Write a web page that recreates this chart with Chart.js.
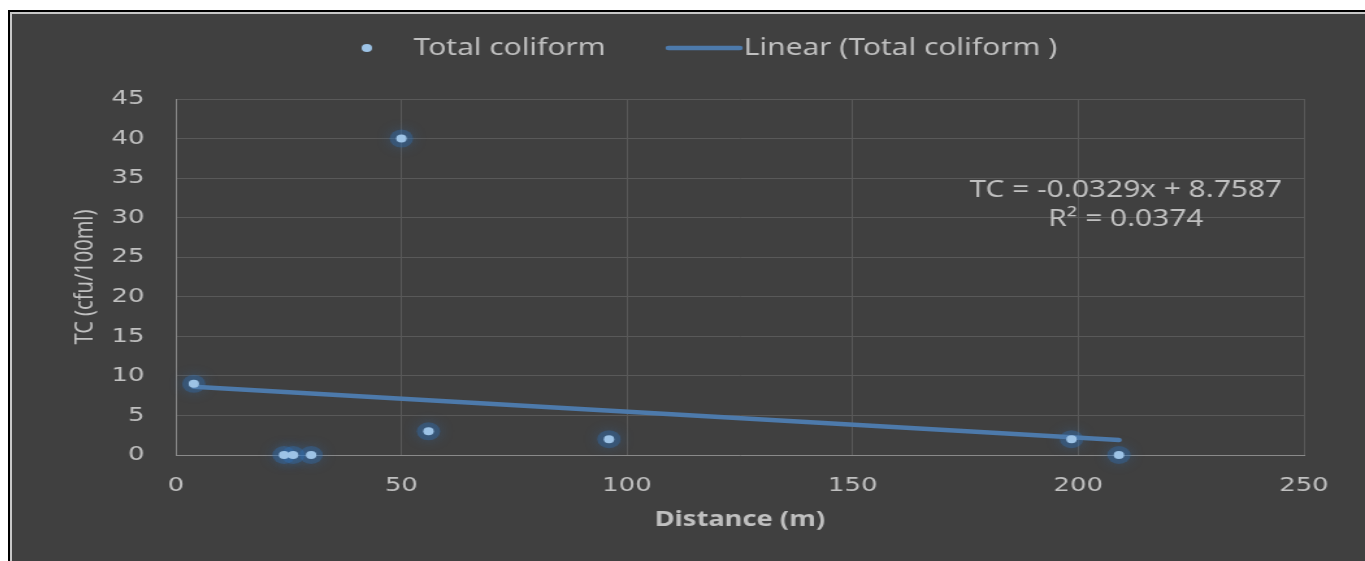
<!DOCTYPE html>
<html>
<head>
<meta charset="utf-8">
<title>Total coliform vs distance</title>
<script src="https://cdn.jsdelivr.net/npm/chart.js@4.4.1/dist/chart.umd.min.js"></script>
<style>
  html, body { margin: 0; padding: 0; background: #fff; overflow: hidden; }
  #frame {
    position: absolute; left: 8px; top: 10px;
    width: 1357px; height: 551px;
    border-left: 2px solid #000; border-top: 2px solid #000;
  }
  #inner {
    width: 1355px; height: 549px;
    border-left: 2px solid #c8c8c8; border-top: 2px solid #c8c8c8;
    background: #404040;
  }
  #chart { display: block; }
</style>
</head>
<body>
<div id="frame"><div id="inner">
  <canvas id="chart" width="1041" height="547" style="width:1353px;height:547px"></canvas>
</div></div>
<script>
// Data
const distance = [4, 24, 26, 30, 50, 56, 96, 198.5, 209];
const totalColiform = [9, 0, 0, 0, 40, 3, 2, 2, 0];

// Excel linear trendline shown on the chart
const trendSlope = -0.0329;
const trendIntercept = 8.7587;
const trendLabel = 'TC = -0.0329x + 8.7587';
const r2Label = 'R\u00b2 = 0.0374';

const xTicks = [0, 50, 100, 150, 200, 250];
const yTicks = [0, 5, 10, 15, 20, 25, 30, 35, 40, 45];

const textColor = '#c0c0c0';
const gridColor = '#595959';
const pointColor = '#9dc3e6';
const glowColor = 'rgba(50, 115, 185, 0.35)';
const lineColor = '#4d7aab';

const points = distance.map((d, i) => ({ x: d, y: totalColiform[i] }));
const xMin = Math.min(...distance);
const xMax = Math.max(...distance);
const trendPoints = [
  { x: xMin, y: trendIntercept + trendSlope * xMin },
  { x: xMax, y: trendIntercept + trendSlope * xMax },
];

// blur the halo dataset so it reads as a soft glow
const glowPlugin = {
  id: 'glow',
  beforeDatasetDraw(chart, args) {
    if (args.index !== 2) return;
    const c = chart.ctx;
    c.save();
    c.shadowColor = 'rgba(50, 115, 185, 0.9)';
    c.shadowBlur = 12;
  },
  afterDatasetDraw(chart, args) {
    if (args.index !== 2) return;
    chart.ctx.restore();
  },
};

// Excel style legend and equation label
const extrasPlugin = {
  id: 'extras',
  afterDraw(chart) {
    const c = chart.ctx;
    c.save();
    c.textBaseline = 'middle';
    c.font = '23px "Noto Sans"';

    // legend
    c.beginPath();
    c.fillStyle = pointColor;
    c.arc(273, 34, 4, 0, Math.PI * 2);
    c.fill();
    c.fillStyle = textColor;
    c.textAlign = 'left';
    c.fillText('Total coliform', 309, 34);

    c.strokeStyle = lineColor;
    c.lineWidth = 4.5;
    c.lineCap = 'round';
    c.beginPath();
    c.moveTo(505, 34);
    c.lineTo(560, 34);
    c.stroke();
    c.fillText('Linear (Total coliform )', 563, 34);

    // trendline equation
    c.textAlign = 'center';
    c.fillText(trendLabel, 857, 176);
    c.fillText(r2Label, 857, 205);
    c.restore();
  },
};

const ctx = document.getElementById('chart').getContext('2d');
const chart = new Chart(ctx, {
  type: 'scatter',
  data: {
    datasets: [
      {
        label: 'Total coliform',
        data: points,
        backgroundColor: pointColor,
        borderColor: pointColor,
        pointRadius: 4,
        pointBorderWidth: 0,
        clip: false,
        order: 1,
      },
      {
        type: 'line',
        label: 'Linear (Total coliform )',
        data: trendPoints,
        borderColor: lineColor,
        borderWidth: 4.5,
        borderCapStyle: 'round',
        pointRadius: 0,
        fill: false,
        clip: false,
        order: 2,
      },
      {
        label: 'glow',
        data: points,
        backgroundColor: glowColor,
        borderWidth: 0,
        pointRadius: 9,
        clip: false,
        order: 3,
      },
    ],
  },
  options: {
    responsive: false,
    animation: false,
    devicePixelRatio: 1,
    layout: { padding: { left: 0, right: 47, top: 85, bottom: 0 } },
    plugins: {
      legend: { display: false },
      tooltip: { enabled: false },
    },
    scales: {
      x: {
        type: 'linear',
        min: 0,
        max: 250,
        afterFit: (s) => { s.height = 106; },
        afterBuildTicks: (s) => { s.ticks = xTicks.map((v) => ({ value: v })); },
        ticks: {
          color: textColor,
          font: { family: 'DejaVu Sans', size: 20 },
          padding: 19,
        },
        grid: { color: gridColor, drawTicks: false },
        border: { color: '#8a8a8a' },
        title: {
          display: true,
          text: 'Distance (m)',
          color: textColor,
          font: { family: 'Noto Sans', size: 21, weight: 'bold' },
          padding: { top: 0, bottom: 28 },
        },
      },
      y: {
        min: 0,
        max: 45,
        afterFit: (s) => { s.width = 126; },
        afterBuildTicks: (s) => { s.ticks = yTicks.map((v) => ({ value: v })); },
        ticks: {
          color: textColor,
          font: { family: 'DejaVu Sans', size: 20 },
          padding: 24,
        },
        grid: { color: gridColor, drawTicks: false },
        border: { color: '#8a8a8a' },
        title: {
          display: true,
          text: 'TC (cfu/100ml)',
          color: textColor,
          font: { family: 'Noto Sans', size: 20 },
          padding: { top: 44, bottom: 0 },
        },
      },
    },
  },
  plugins: [glowPlugin, extrasPlugin],
});
</script>
</body>
</html>
